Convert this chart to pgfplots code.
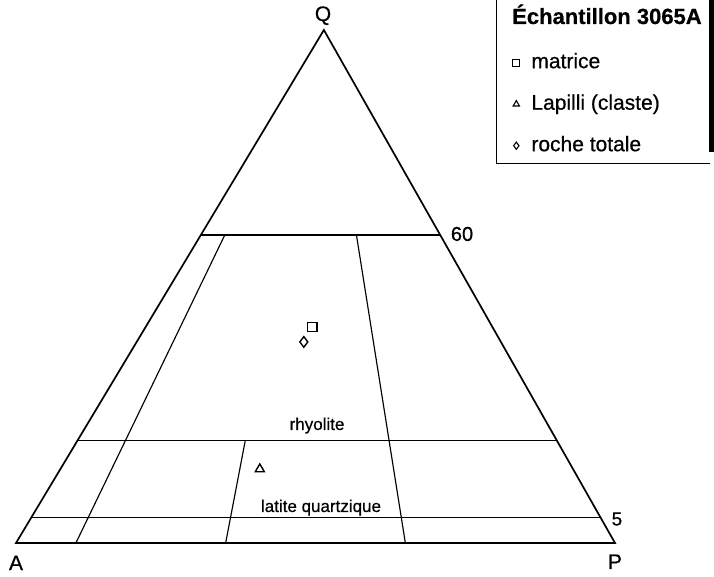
\documentclass[border=0pt]{standalone}
\usepackage{fontspec}
\setmainfont{Liberation Sans}[FakeBold=0.6]
\usepackage{pgfplots}
\pgfplotsset{compat=1.18}

% ternary (A, P, Q) -> plane: P to the right, Q upwards, apex slightly right of centre
\pgfplotsset{
  table/qap/.style={x expr=\thisrow{P}+0.514*\thisrow{Q}, y expr=\thisrow{Q}},
  sample/.style={only marks, line width=1.4bp,
    legend image code/.code={\draw[##1, mark size=3.6bp, line width=1.1bp] plot coordinates {(0bp,0bp)};}},
  field/.style={black, line width=1.15bp, forget plot},
}
\newcommand\fs[1]{\fontsize{#1bp}{#1bp}\selectfont}

\begin{document}
\begin{tikzpicture}
\begin{axis}[
  scale only axis, width=714bp, height=577bp,
  xmin=-2.671, xmax=116.528, ymin=-6.628, ymax=105.848,
  hide axis, clip=false,
  legend cell align=left,
  legend style={at={(rel axis cs:0.7178,0.9116)}, anchor=north west,
    draw=none, fill=none, inner sep=0pt, row sep=18.5bp, column sep=9.5bp,
    font=\fs{21}, nodes={inner sep=2bp, text height=15bp, text depth=4bp}},
]
% triangle outline
\addplot[field, line width=1.7bp, line join=miter] table[qap] {
A P Q
100 0 0
0 100 0
0 0 100
100 0 0
0 100 0
};
% Q = 60, 20, 5
\addplot[field, line width=1.4bp] table[qap] {
A P Q
40 0 60
0 40 60
};
\addplot[field, line width=1.4bp] table[qap] {
A P Q
80 0 20
0 80 20
};
\addplot[field, line width=1.4bp] table[qap] {
A P Q
95 0 5
0 95 5
};
% P/(A+P) = 10, 65 (from Q = 60) and 35 (from Q = 20)
\addplot[field] table[qap] {
A P Q
36 4 60
90 10 0
};
\addplot[field] table[qap] {
A P Q
14 26 60
35 65 0
};
\addplot[field] table[qap] {
A P Q
52 28 20
65 35 0
};

% samples
\addplot[sample, mark=square, mark size=4.7bp] table[qap] {
A P Q
30.1 27.8 42.1
};
\addlegendentry{matrice}
\addplot[sample, mark=triangle, mark size=5.2bp] table[qap] {
A P Q
52.3 33.3 14.4
};
\addlegendentry{Lapilli (claste)}
\addplot[sample, mark=diamond, mark size=5.3bp] table[qap] {
A P Q
32.9 27.9 39.2
};
\addlegendentry{roche totale}

% labels
\begin{scope}[every node/.style={inner sep=0pt}]
\node[anchor=base, font=\fs{21}] at (rel axis cs:0.4524,0.9636) {Q};
\node[anchor=base, font=\fs{21}] at (rel axis cs:0.0224,0.0121) {A};
\node[anchor=base, font=\fs{21}] at (rel axis cs:0.8613,0.0139) {P};
\node[font=\fs{20}] at (rel axis cs:0.6471,0.5945) {60};
\node[font=\fs{19}] at (rel axis cs:0.8641,0.1005) {5};
\node[anchor=base, font=\fs{17}] at (rel axis cs:0.4440,0.2548) {rhyolite};
\node[anchor=base, font=\fs{17}] at (rel axis cs:0.4496,0.1127) {latite quartzique};
\node[anchor=base west, font=\fs{22}\bfseries] at (rel axis cs:0.7171,0.9584) {Échantillon 3065A};
\end{scope}
% legend frame with its dark right edge
\draw[line width=0.9bp] (rel axis cs:0.6947,1) |- (rel axis cs:0.9944,0.7175);
\fill (rel axis cs:0.9930,0.7366) rectangle (rel axis cs:1,1);
\end{axis}
\pgfresetboundingbox
\path[use as bounding box] (current axis.south west) rectangle (current axis.north east);
\end{tikzpicture}
\end{document}
